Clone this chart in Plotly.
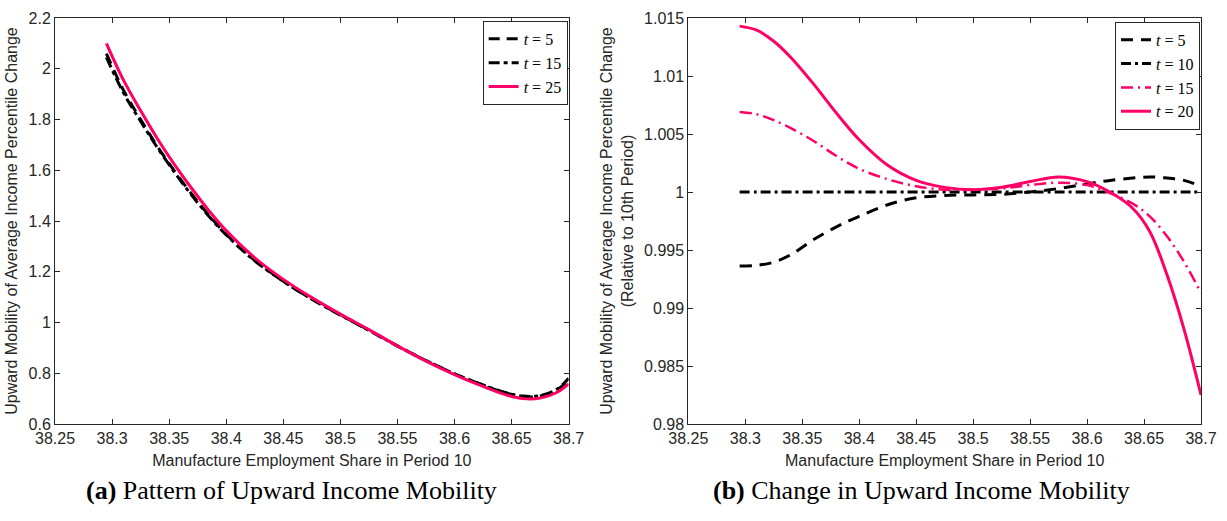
import plotly.graph_objects as go

# ---------------- data: panel (a) ----------------
x_a = [38.295, 38.31, 38.325, 38.34, 38.355, 38.37, 38.385, 38.40, 38.425, 38.45,
       38.475, 38.50, 38.525, 38.55, 38.575, 38.60, 38.625, 38.645, 38.66, 38.675,
       38.69, 38.70]
a_t5 = [2.060, 1.915, 1.800, 1.692, 1.595, 1.505, 1.422, 1.348, 1.245, 1.163,
        1.093, 1.030, 0.970, 0.908, 0.850, 0.798, 0.753, 0.722, 0.708, 0.710,
        0.735, 0.775]
a_t15 = [2.045, 1.905, 1.793, 1.687, 1.590, 1.500, 1.418, 1.345, 1.243, 1.162,
         1.092, 1.029, 0.969, 0.907, 0.850, 0.798, 0.754, 0.723, 0.710, 0.712,
         0.738, 0.780]
a_t25 = [2.100, 1.955, 1.835, 1.722, 1.620, 1.527, 1.440, 1.362, 1.255, 1.170,
         1.098, 1.033, 0.972, 0.908, 0.848, 0.795, 0.748, 0.715, 0.700, 0.702,
         0.725, 0.758]

# ---------------- data: panel (b) ----------------
x_b = [38.295, 38.31, 38.325, 38.34, 38.36, 38.38, 38.40, 38.425, 38.45, 38.475,
       38.50, 38.525, 38.55, 38.575, 38.60, 38.62, 38.64, 38.655, 38.67, 38.685,
       38.70]
b_t5 = [0.99362, 0.99368, 0.99395, 0.9946, 0.9959, 0.9970, 0.9979, 0.9989, 0.9995,
        0.9997, 0.99975, 0.9998, 1.0000, 1.0003, 1.0007, 1.0010, 1.0012, 1.0013,
        1.0012, 1.0010, 1.0005]
b_t10 = [1.0] * len(x_b)
b_t15 = [1.0069, 1.0067, 1.0062, 1.0055, 1.0044, 1.0031, 1.0020, 1.0011, 1.0005,
         1.0002, 1.0002, 1.0003, 1.0006, 1.0008, 1.0006, 0.9999, 0.9990, 0.9979,
         0.9962, 0.9940, 0.9913]
b_t20 = [1.0143, 1.01395, 1.0130, 1.0116, 1.0093, 1.0068, 1.0045, 1.0023, 1.0010,
         1.0004, 1.0002, 1.0004, 1.0009, 1.0013, 1.0009, 1.0000, 0.9986, 0.9966,
         0.9929, 0.9882, 0.9825]

x_ticks = [38.25, 38.3, 38.35, 38.4, 38.45, 38.5, 38.55, 38.6, 38.65, 38.7]
x_ticktext = ["38.25", "38.3", "38.35", "38.4", "38.45", "38.5", "38.55", "38.6", "38.65", "38.7"]
ya_ticks = [0.6, 0.8, 1.0, 1.2, 1.4, 1.6, 1.8, 2.0, 2.2]
ya_ticktext = ["0.6", "0.8", "1", "1.2", "1.4", "1.6", "1.8", "2", "2.2"]
yb_ticks = [0.98, 0.985, 0.99, 0.995, 1.0, 1.005, 1.01, 1.015]
yb_ticktext = ["0.98", "0.985", "0.99", "0.995", "1", "1.005", "1.01", "1.015"]

PINK = "#FF0066"
BLACK = "#000000"
AX = "#262626"

fig = go.Figure()

def add(x, y, name, color, dash, width, xa, ya, legend):
    fig.add_trace(go.Scatter(
        x=x, y=y, name=name, mode="lines",
        line=dict(color=color, dash=dash, width=width, shape="spline", smoothing=1.0),
        xaxis=xa, yaxis=ya, legend=legend))

add(x_a, a_t5, "<i>t</i> = 5", BLACK, "11px,7px", 3, "x", "y", "legend")
add(x_a, a_t15, "<i>t</i> = 15", BLACK, "11px,4px,4px,4px", 3, "x", "y", "legend")
add(x_a, a_t25, "<i>t</i> = 25", PINK, "solid", 3, "x", "y", "legend")

add(x_b, b_t5, "<i>t</i> = 5", BLACK, "12px,8px", 3, "x2", "y2", "legend2")
add(x_b, b_t10, "<i>t</i> = 10", BLACK, "10px,4px,3px,4px", 3, "x2", "y2", "legend2")
add(x_b, b_t15, "<i>t</i> = 15", PINK, "12px,5px,2px,5px", 2.5, "x2", "y2", "legend2")
add(x_b, b_t20, "<i>t</i> = 20", PINK, "solid", 3, "x2", "y2", "legend2")

W, H = 1227, 521
ml, mr, mt, mb = 55, 23, 10, 97
pw = W - ml - mr
left_dom = [0, (570 - ml) / pw]
right_dom = [(690 - ml) / pw, 1]

axis_font = dict(family="Liberation Sans, Arial, sans-serif", size=16, color=AX)
title_font = dict(family="Liberation Sans, Arial, sans-serif", size=16, color=AX)

def xaxis(dom, anchor):
    return dict(domain=dom, anchor=anchor, range=[38.25, 38.7], tickvals=x_ticks,
                ticktext=x_ticktext, ticks="inside", ticklen=5, tickcolor=AX,
                showline=True, linecolor=AX, linewidth=1, mirror="ticks",
                showgrid=False, zeroline=False, tickfont=axis_font,
                title=dict(text="Manufacture Employment Share in Period 10",
                           font=title_font, standoff=8))

def yaxis(rng, tv, tt, title, anchor):
    return dict(range=rng, anchor=anchor, tickvals=tv, ticktext=tt, ticks="inside",
                ticklen=5, tickcolor=AX, showline=True, linecolor=AX, linewidth=1,
                mirror="ticks", showgrid=False, zeroline=False, tickfont=axis_font,
                title=dict(text=title, font=title_font, standoff=6))

legend_common = dict(bgcolor="white", bordercolor=AX, borderwidth=1,
                     font=dict(family="Liberation Serif, DejaVu Serif, serif", size=16, color="black"),
                     xanchor="right", yanchor="top", itemwidth=30, tracegroupgap=0)

fig.update_layout(
    width=W, height=H,
    margin=dict(l=ml, r=mr, t=mt, b=mb),
    paper_bgcolor="white", plot_bgcolor="white",
    xaxis=xaxis(left_dom, "y"),
    yaxis=yaxis([0.6, 2.2], ya_ticks, ya_ticktext,
                "Upward Mobility of Average Income Percentile Change", "x"),
    xaxis2=xaxis(right_dom, "y2"),
    yaxis2=yaxis([0.98, 1.015], yb_ticks, yb_ticktext,
                 "Upward Mobility of Average Income Percentile Change<br>(Relative to 10th Period)", "x2"),
    legend=dict(x=(569 - ml) / pw, y=1 - 3 / 414, **legend_common),
    legend2=dict(x=(1203 - ml) / pw, y=1 - 4 / 414, **legend_common),
    showlegend=True,
)

cap_font = dict(family="Liberation Serif, Times New Roman, serif", size=26, color="black")
fig.add_annotation(text="<b>(a)</b> Pattern of Upward Income Mobility", xref="paper", yref="paper",
                   x=(292 - ml) / pw, y=(424 - 492) / 414, xanchor="center", yanchor="middle",
                   showarrow=False, font=cap_font)
fig.add_annotation(text="<b>(b)</b> Change in Upward Income Mobility", xref="paper", yref="paper",
                   x=(924 - ml) / pw, y=(424 - 492) / 414, xanchor="center", yanchor="middle",
                   showarrow=False, font=cap_font)

fig.write_html("out.html")
